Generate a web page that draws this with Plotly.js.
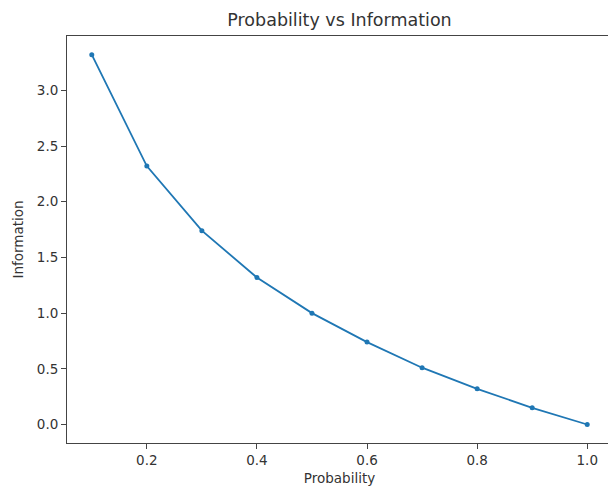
<!DOCTYPE html>
<html>
<head>
<meta charset="utf-8">
<script src="https://cdn.plot.ly/plotly-3.0.1.min.js"></script>
<style>
html, body { margin: 0; padding: 0; overflow: hidden; background: #fff; }
#chart { width: 622px; height: 488px; }
</style>
</head>
<body>
<div id="chart"></div>
<script>
const probability = [0.1, 0.2, 0.3, 0.4, 0.5, 0.6, 0.7, 0.8, 0.9, 1.0];
const information = [3.32, 2.32, 1.74, 1.32, 1.0, 0.74, 0.51, 0.32, 0.15, 0.0];
const xTicks = [0.2, 0.4, 0.6, 0.8, 1.0];
const yTicks = [0.0, 0.5, 1.0, 1.5, 2.0, 2.5, 3.0];

const font = {family: 'DejaVu Sans, sans-serif', color: '#333', size: 13.5};

const trace = {
  x: probability,
  y: information,
  type: 'scatter',
  mode: 'lines+markers',
  line: {color: '#1f77b4', width: 1.8},
  marker: {color: '#1f77b4', size: 5}
};

const axisCommon = {
  showline: true, linecolor: '#444', linewidth: 1, mirror: true,
  ticks: 'outside', ticklen: 5, tickcolor: '#444', tickwidth: 1,
  showgrid: false, zeroline: false, tickfont: font
};

const layout = {
  width: 622, height: 488,
  margin: {l: 67, r: 10, t: 36, b: 45},
  paper_bgcolor: '#fff', plot_bgcolor: '#fff',
  showlegend: false,
  font: font,
  title: {text: 'Probability vs Information', font: {family: 'DejaVu Sans, sans-serif', size: 17.5, color: '#333'}, x: 339.5/622, xanchor: 'center', y: 1 - 20/488, yanchor: 'middle'},
  xaxis: Object.assign({}, axisCommon, {
    range: [0.055, 1.045], tickvals: xTicks, tickformat: '.1f',
    title: {text: 'Probability', font: font, standoff: 6}
  }),
  yaxis: Object.assign({}, axisCommon, {
    range: [-0.166, 3.488], tickvals: yTicks, tickformat: '.1f',
    title: {text: 'Information', font: font, standoff: 10}
  })
};

Plotly.newPlot('chart', [trace], layout, {displayModeBar: false, staticPlot: true});
</script>
</body>
</html>
